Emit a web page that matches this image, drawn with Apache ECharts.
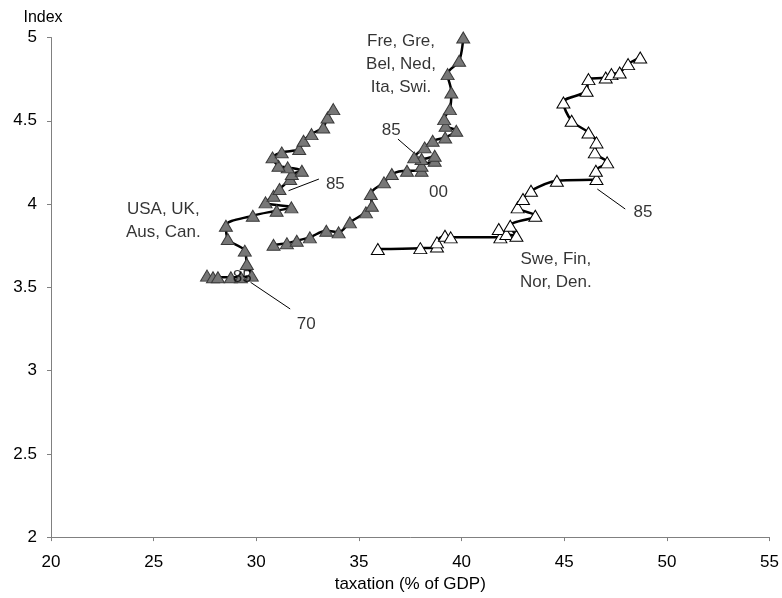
<!DOCTYPE html>
<html>
<head>
<meta charset="utf-8">
<script src="https://cdn.jsdelivr.net/npm/echarts@6/dist/echarts.min.js"></script>
<style>html,body{margin:0;padding:0;background:#fff}#c{width:782px;height:598px}</style>
</head>
<body>
<div id="c"></div>
<script>
// Anglo-Saxon group: USA, UK, Aus, Can.
const angloX = [27.60, 27.89, 28.13, 28.76, 29.25, 29.78, 29.54, 29.44, 28.61, 28.52, 29.83, 30.99, 31.71, 30.45, 30.84, 31.13, 31.65, 31.73, 32.22, 31.53, 31.08, 30.79, 31.24, 32.09, 32.30, 32.69, 33.26, 33.47, 33.75];
const angloY = [3.57, 3.56, 3.56, 3.56, 3.56, 3.57, 3.64, 3.72, 3.79, 3.87, 3.93, 3.96, 3.98, 4.01, 4.05, 4.09, 4.15, 4.18, 4.20, 4.22, 4.23, 4.28, 4.31, 4.33, 4.38, 4.42, 4.46, 4.52, 4.57];
// Continental group: Fre, Gre, Bel, Ned, Ita, Swi.
const contX = [30.84, 31.49, 31.97, 32.61, 33.41, 34.01, 34.56, 35.34, 35.63, 35.58, 36.22, 36.60, 37.34, 38.05, 38.05, 38.69, 38.69, 38.05, 37.69, 38.20, 38.59, 39.20, 39.74, 39.22, 39.15, 39.43, 39.50, 39.32, 39.88, 40.08];
const contY = [3.755, 3.765, 3.78, 3.80, 3.84, 3.83, 3.89, 3.95, 3.99, 4.06, 4.13, 4.18, 4.20, 4.20, 4.23, 4.26, 4.29, 4.27, 4.28, 4.34, 4.38, 4.40, 4.44, 4.47, 4.51, 4.57, 4.67, 4.78, 4.86, 5.00];
// Nordic group: Swe, Fin, Nor, Den.
const nordX = [35.92, 37.99, 38.80, 38.80, 39.19, 39.47, 41.89, 41.81, 42.18, 42.67, 42.37, 43.59, 42.73, 42.99, 43.38, 44.64, 46.57, 46.54, 47.09, 46.49, 46.57, 46.18, 45.36, 44.96, 46.09, 46.18, 47.02, 47.30, 47.70, 48.11, 48.70];
const nordY = [3.73, 3.735, 3.745, 3.77, 3.81, 3.80, 3.80, 3.85, 3.82, 3.81, 3.87, 3.93, 3.98, 4.03, 4.08, 4.14, 4.15, 4.20, 4.25, 4.31, 4.37, 4.43, 4.50, 4.61, 4.68, 4.75, 4.76, 4.78, 4.79, 4.84, 4.88];

// Text annotations (data coordinates)
const noteTexts = ['USA, UK,\nAus, Can.', '70', '85', '85', 'Fre, Gre,\nBel, Ned,\nIta, Swi.', '85', '00', '85', 'Swe, Fin,\nNor, Den.'];
const noteX = [25.47, 32.43, 33.85, 29.31, 37.05, 36.57, 38.87, 48.83, 44.59];
const noteY = [3.90, 3.275, 4.12, 3.56, 4.84, 4.44, 4.07, 3.95, 3.60];
// Leader lines [x1, y1, x2, y2]
const leaders = [
  [31.65, 3.37, 29.72, 3.53],
  [33.05, 4.15, 31.57, 4.08],
  [36.90, 4.39, 38.02, 4.27],
  [47.97, 3.97, 46.61, 4.09]
];

const xTicks = {min: 20, max: 55, interval: 5};
const yTicks = {min: 2, max: 5, interval: 0.5};

const zip = (xs, ys) => xs.map((x, i) => [x, ys[i]]);
const FONT = 'Liberation Sans';

const chart = echarts.init(document.getElementById('c'), null, {renderer: 'canvas'});
const axisCol = '#808080';

function groupSeries(xs, ys, fill, border) {
  return {
    type: 'line',
    data: zip(xs, ys),
    smooth: 0.35,
    symbol: 'triangle',
    symbolSize: [13, 11],
    showAllSymbol: true,
    lineStyle: {color: '#000', width: 2.5},
    itemStyle: {color: fill, borderColor: border, borderWidth: 1},
    z: 3
  };
}

chart.setOption({
  animation: false,
  grid: {left: 51, right: 8, top: 37.5, bottom: 56.5, containLabel: false},
  xAxis: {
    type: 'value', min: xTicks.min, max: xTicks.max, interval: xTicks.interval,
    name: 'taxation (% of GDP)', nameLocation: 'middle', nameGap: 37,
    nameTextStyle: {fontFamily: FONT, fontSize: 17, color: '#000'},
    axisLine: {show: true, lineStyle: {color: axisCol, width: 1}},
    axisTick: {show: true, length: 4, lineStyle: {color: axisCol}},
    axisLabel: {fontFamily: FONT, fontSize: 17, color: '#000', margin: 17},
    splitLine: {show: false}
  },
  yAxis: {
    type: 'value', min: yTicks.min, max: yTicks.max, interval: yTicks.interval,
    name: 'Index', nameLocation: 'end', nameGap: 12,
    nameTextStyle: {fontFamily: FONT, fontSize: 16, color: '#000', padding: [0, 16, 0, 0]},
    axisLine: {show: true, lineStyle: {color: axisCol, width: 1}},
    axisTick: {show: true, length: 4, lineStyle: {color: axisCol}},
    axisLabel: {fontFamily: FONT, fontSize: 17, color: '#000', margin: 14},
    splitLine: {show: false}
  },
  series: [
    groupSeries(angloX, angloY, '#777777', '#3a3a3a'),
    groupSeries(contX, contY, '#777777', '#3a3a3a'),
    groupSeries(nordX, nordY, '#ffffff', '#000000'),
    {
      type: 'lines', coordinateSystem: 'cartesian2d', z: 2,
      lineStyle: {color: '#000', width: 1, opacity: 1},
      data: leaders.map(l => ({coords: [[l[0], l[1]], [l[2], l[3]]]}))
    },
    {
      type: 'scatter', symbolSize: 0, z: 4, silent: true,
      data: noteTexts.map((t, i) => ({name: t, value: [noteX[i], noteY[i]]})),
      label: {
        show: true, position: 'inside', formatter: p => p.name,
        fontFamily: FONT, fontSize: 17, color: '#000', lineHeight: 23, align: 'center'
      }
    }
  ]
});
</script>
</body>
</html>
